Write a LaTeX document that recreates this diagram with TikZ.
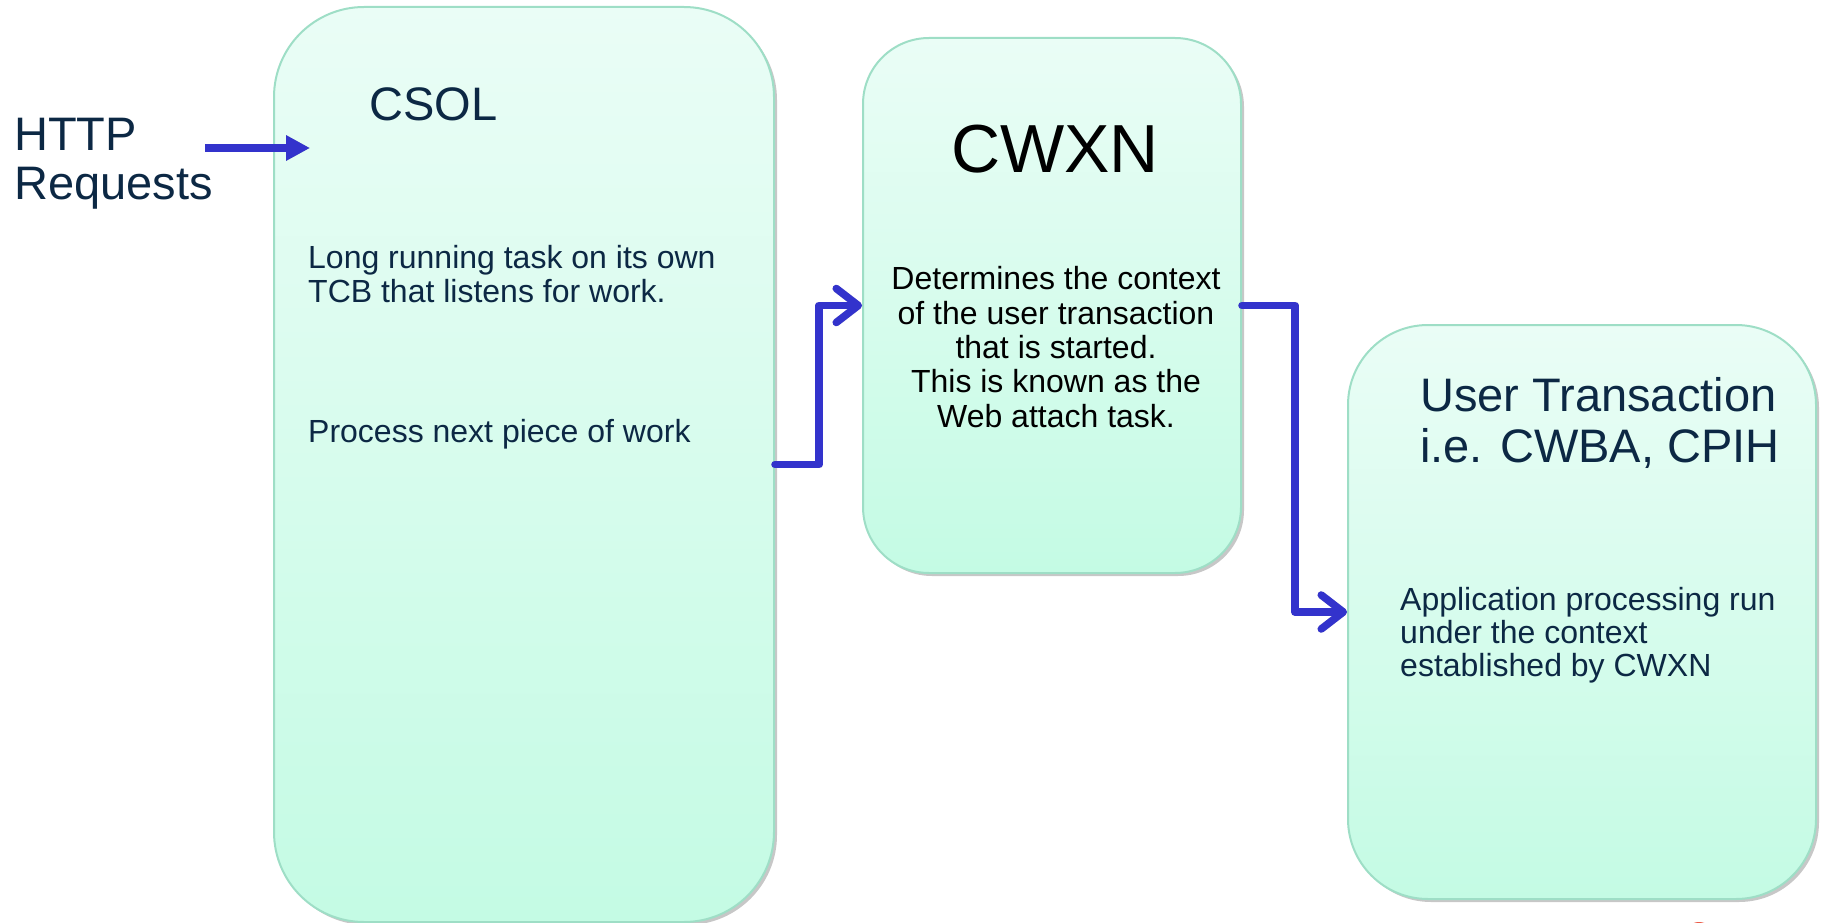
\documentclass[tikz,border=0pt]{standalone}
\usepackage{fontspec}
\setmainfont{Liberation Sans}
\usetikzlibrary{arrows.meta,shadows}

\definecolor{navy}{RGB}{12,40,68}
\definecolor{flow}{RGB}{51,51,204}
\definecolor{mintTop}{RGB}{234,253,246}
\definecolor{mintBot}{RGB}{196,251,228}
\definecolor{mintEdge}{RGB}{158,222,198}
\definecolor{coral}{RGB}{236,92,72}

\tikzset{
  panel/.style={draw=mintEdge, line width=2pt, top color=mintTop, bottom color=mintBot,
    anchor=north west, inner sep=0pt,
    drop shadow={shadow xshift=3pt, shadow yshift=-3pt, opacity=0.22, fill=black}},
  title/.style={inner sep=0pt, text=navy, font=\fontsize{47}{50}\selectfont, align=left},
  body/.style={inner sep=0pt, text=navy, font=\fontsize{32}{34}\selectfont, align=left},
  conn/.style={draw=flow, line width=7.5pt, line cap=round, line join=round,
    -{Straight Barb[length=22pt,width=34pt,round]}},
  feed/.style={draw=flow, line width=8pt, -{Triangle[length=24pt,width=24pt]}},
  ghost/.style={draw=black, opacity=0.18, xshift=2.5pt, yshift=-2.5pt},
}

\begin{document}
\begin{tikzpicture}[x=1pt, y=-1pt]
  \useasboundingbox (0,0) rectangle (1821,923);
  \clip (0,0) rectangle (1821,923);

  % the three task panels
  \node[panel, rounded corners=90pt, minimum width=500pt, minimum height=915pt] (csol) at (273,6) {};
  \node[panel, rounded corners=66pt, minimum width=378pt, minimum height=535pt] (cwxn) at (862,37) {};
  \node[panel, rounded corners=80pt, minimum width=468pt, minimum height=574pt] (ut) at (1347,324) {};

  % incoming requests (multi-line nodes are placed by their last baseline)
  \node[title, anchor=base west, font=\fontsize{47}{49}\selectfont] (http) at (14,200) {HTTP\\Requests};
  \coordinate (feedstart) at (205,148);
  \coordinate (feedend) at (310,148);

  % CSOL panel text
  \node[title, anchor=base west] (csoltitle) at (369,121) {CSOL};
  \node[body, anchor=base west] (csolbody) at (308,302) {Long running task on its own\\TCB that listens for work.};
  \node[body, anchor=base west] (csolnext) at (308,442) {Process next piece of work};

  % CWXN panel text
  \node[inner sep=0pt, anchor=base, font=\fontsize{68}{70}\selectfont] (cwxntitle) at (1055,172) {CWXN};
  \node[inner sep=0pt, anchor=base, align=center, font=\fontsize{32}{34.3}\selectfont] (cwxnbody) at (1056,427)
    {Determines the context\\of the user transaction\\that is started.\\This is known as the\\Web attach task.};

  % user transaction panel text
  \node[title, anchor=base west, font=\fontsize{47}{51}\selectfont] (uttitle) at (1420,462) {User Transaction\\i.e. CWBA, CPIH};
  \node[body, anchor=base west, font=\fontsize{32}{33}\selectfont] (utbody) at (1400,676)
    {Application processing run\\under the context\\established by CWXN};

  % flow connectors, each with a soft offset shadow
  \draw[feed, ghost] (feedstart) -- (feedend);
  \draw[feed] (feedstart) -- (feedend);

  \draw[conn, ghost] (csol.east) -- ++(44,0) |- (cwxn.west);
  \draw[conn] (csol.east) -- ++(44,0) |- (cwxn.west);

  \draw[conn, ghost] (cwxn.east) -- ++(53,0) |- (ut.west);
  \draw[conn] (cwxn.east) -- ++(53,0) |- (ut.west);

  % edge of the logo peeking in at the bottom
  \fill[coral] (1699,937) circle (15);
\end{tikzpicture}
\end{document}
